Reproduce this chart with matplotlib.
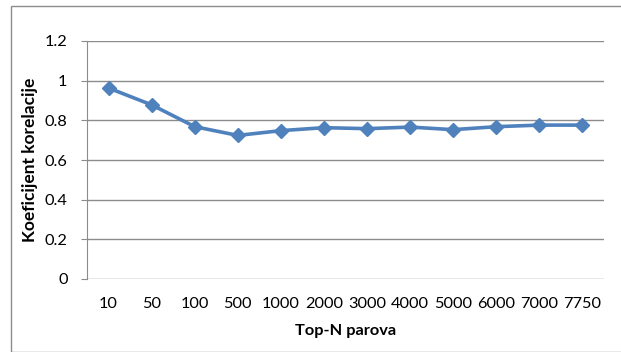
import matplotlib.pyplot as plt
from matplotlib.patches import Rectangle

# Top-N pairs vs. correlation coefficient
categories = ["10", "50", "100", "500", "1000", "2000", "3000",
              "4000", "5000", "6000", "7000", "7750"]
correlation = [0.963, 0.878, 0.768, 0.724, 0.748, 0.763, 0.758,
               0.766, 0.753, 0.768, 0.776, 0.776]
y_ticks = [0, 0.2, 0.4, 0.6, 0.8, 1, 1.2]
y_tick_labels = ["0", "0.2", "0.4", "0.6", "0.8", "1", "1.2"]

plt.rcParams['font.family'] = ['Lato', 'DejaVu Sans']

W, H = 621, 352
fig = plt.figure(figsize=(W / 100, H / 100), dpi=100)

# chart frame (right and bottom edges run off the canvas)
fig.patches.append(Rectangle((11 / W, 0), 1, 1 - 6 / H, transform=fig.transFigure,
                             fill=False, edgecolor="#8c8c8c", linewidth=1.0))

ax = fig.add_axes([87 / W, 1 - 279 / H, (604 - 87) / W, (279 - 41) / H])

x = range(len(categories))
ax.plot(x, correlation, color="#4F81BD", linewidth=2.6, marker="D",
        markersize=7, markerfacecolor="#4F81BD", markeredgecolor="#4F81BD")

ax.set_xlim(-0.5, len(categories) - 0.5)
ax.set_ylim(0, 1.2)
ax.set_yticks(y_ticks)
ax.set_yticklabels(y_tick_labels)
ax.set_xticks(list(x))
ax.set_xticklabels(categories)

ax.grid(axis="y", color="#8c8c8c", linewidth=1.0)
ax.set_axisbelow(True)
for side in ["top", "right", "bottom"]:
    ax.spines[side].set_visible(False)
ax.spines["left"].set_color("#8c8c8c")

ax.tick_params(axis="x", length=0, pad=13, labelsize=11.8)
ax.tick_params(axis="y", length=4, color="#8c8c8c", pad=10, labelsize=11.8)

ax.set_xlabel("Top-N parova", fontsize=11.8, fontweight="bold", labelpad=9)
ax.set_ylabel("Koeficijent korelacije", fontsize=12.5, fontweight="bold", labelpad=5)

plt.savefig("out.png", dpi=100)
